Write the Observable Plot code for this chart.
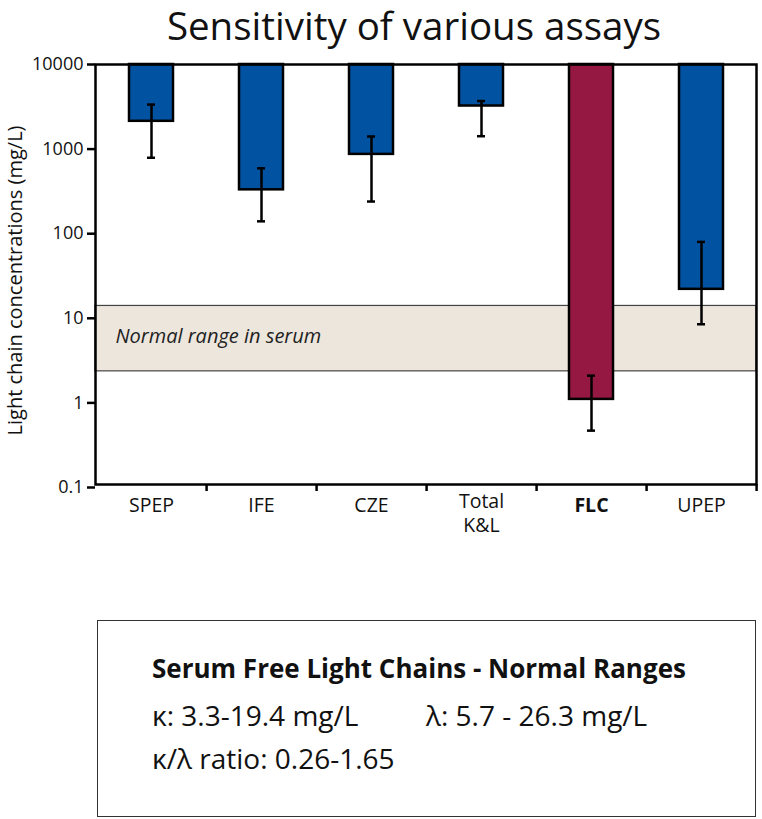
<!DOCTYPE html>
<html>
<head>
<meta charset="utf-8">
<script src="https://cdn.jsdelivr.net/npm/d3@7"></script>
<script src="https://cdn.jsdelivr.net/npm/@observablehq/plot@0.6"></script>
<style>
  html, body { margin: 0; padding: 0; background: #fff; }
  body { width: 762px; height: 819px; position: relative; font-family: "Open Sans", Lato, sans-serif; }
  #title { position: absolute; left: 33px; top: 0; width: 762px; text-align: center; font-size: 38.5px; font-weight: 400; line-height: 50px; color: #111; }
  #chart { position: absolute; left: 0; top: 0; }
  #box { position: absolute; left: 97px; top: 620px; width: 657px; height: 195px; border: 1.5px solid #333; }
  #box .t { position: absolute; font-size: 28px; line-height: normal; color: #111; white-space: nowrap; }
</style>
</head>
<body>
<div id="chart"></div>
<div id="title">Sensitivity of various assays</div>
<div id="box">
  <div class="t" style="left:54px; top:29px; font-weight:bold; font-size:26px;">Serum Free Light Chains - Normal Ranges</div>
  <div class="t" style="left:54px; top:75px;">κ: 3.3-19.4 mg/L</div>
  <div class="t" style="left:328px; top:75px;">λ: 5.7 - 26.3 mg/L</div>
  <div class="t" style="left:54px; top:118px;">κ/λ ratio: 0.26-1.65</div>
</div>
<script>
const categories = ["SPEP", "IFE", "CZE", "Total K&L", "FLC", "UPEP"];
const values     = [2130, 330, 866, 3230, 1.1, 22];
const errLow     = [790, 140, 240, 1420, 0.47, 8.5];
const errHigh    = [3360, 593, 1410, 3700, 2.1, 80];
const barTop = 10000;
const yTicks = [0.1, 1, 10, 100, 1000, 10000];
const normalRange = [2.36, 14];
const normalLabel = "Normal range in serum";
const yLabel = "Light chain concentrations (mg/L)";
const highlight = "FLC";
const twoLine = "Total K&L";

const data = categories.map((c, i) => ({cat: c, value: values[i], lo: errLow[i], hi: errHigh[i]}));

const W = 762, H = 560;
const mL = 95, mR = 6, mT = 64, mB = H - 484;
const step = (W - mL - mR) / categories.length;

const blue = "#0152A1", maroon = "#951843";
const font = "'Open Sans', Lato, sans-serif";

const plot = Plot.plot({
  width: W, height: H,
  marginLeft: mL, marginRight: mR, marginTop: mT, marginBottom: mB,
  style: {fontFamily: font, fontSize: "18px", color: "#111", background: "transparent"},
  x: {domain: categories, paddingInner: 0.6, paddingOuter: 0.3, axis: null},
  y: {type: "log", domain: [0.1, 10000], range: [487, 64], axis: null},
  marks: [
    Plot.rect([normalRange], {y1: d => d[0], y2: d => d[1], fill: "#ede6dd", stroke: "#444", strokeWidth: 1.2}),
    Plot.text([normalLabel], {frameAnchor: "left", y: () => Math.sqrt(normalRange[0] * normalRange[1]), dx: 20, dy: -2, textAnchor: "start", fontStyle: "italic", fontSize: 20, fill: "#222"}),
    Plot.barY(data, {x: "cat", y1: () => barTop, y2: "value", fill: d => d.cat === highlight ? maroon : blue, stroke: "#000", strokeWidth: 2.5}),
    Plot.ruleX(data, {x: "cat", y1: "lo", y2: "hi", stroke: "#000", strokeWidth: 2.5}),
    Plot.tickY(data, {x: "cat", y: "lo", stroke: "#000", strokeWidth: 2.5, insetLeft: 18, insetRight: 18}),
    Plot.tickY(data, {x: "cat", y: "hi", stroke: "#000", strokeWidth: 2.5, insetLeft: 18, insetRight: 18}),
    Plot.frame({stroke: "#000", strokeWidth: 2.5}),
    Plot.axisY(yTicks, {tickSize: 8, tickPadding: 4, strokeWidth: 2.5, stroke: "#000", tickFormat: d => String(d), fontSize: 18, label: null}),
    Plot.axisX({tickSize: 7, text: null, dx: step / 2, strokeWidth: 2.5, stroke: "#000", label: null}),
    Plot.axisX(categories.filter(c => c !== highlight && c !== twoLine), {tickSize: 0, tickPadding: 14, fontSize: 19.5, label: null}),
    Plot.axisX([twoLine], {tickSize: 0, tickPadding: 14, dy: -8, tickFormat: d => d.replace(" ", "\n"), fontSize: 19.5, lineHeight: 1.25, label: null}),
    Plot.axisX([highlight], {tickSize: 0, tickPadding: 14, fontSize: 19.5, fontWeight: "bold", label: null}),
    Plot.text([yLabel], {frameAnchor: "left", textAnchor: "middle", rotate: -90, dx: -80, dy: 6, fontSize: 20, fill: "#111"})
  ]
});
document.getElementById("chart").appendChild(plot);
</script>
</body>
</html>
